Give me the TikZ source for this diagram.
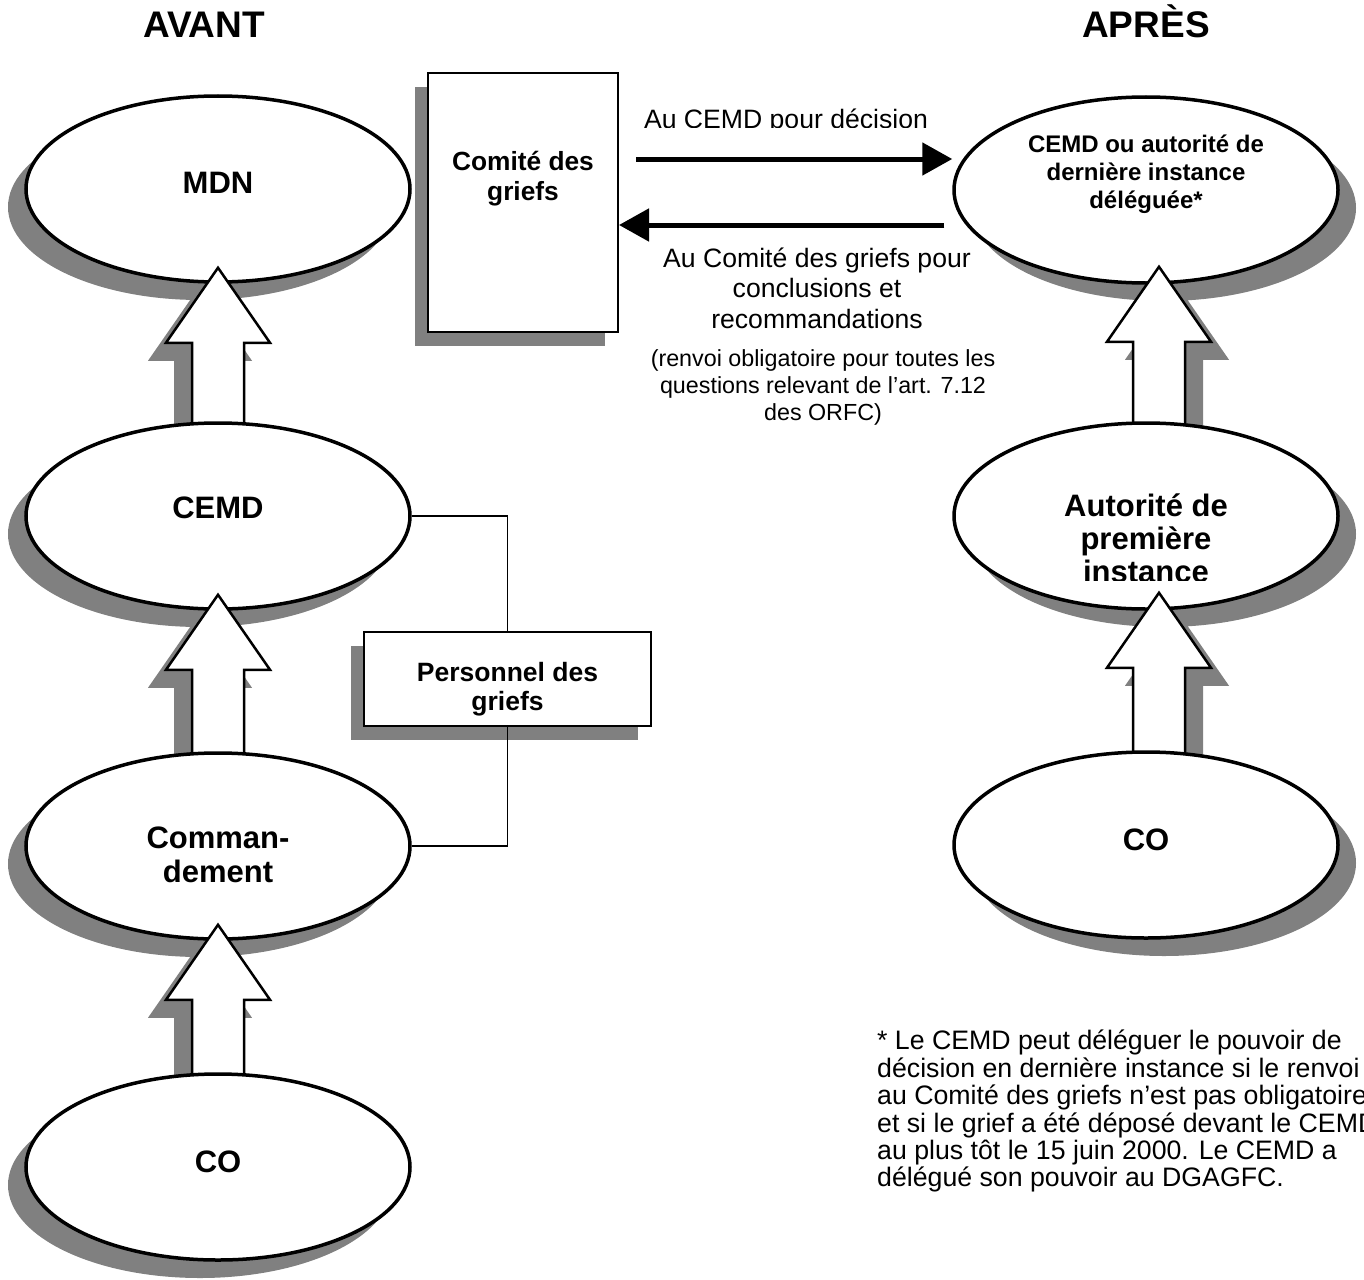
\documentclass[tikz,border=0pt]{standalone}
\usepackage{fontspec}
\setmainfont{Liberation Sans}
\usepackage{tikz}
\usetikzlibrary{shapes.geometric, arrows.meta, calc, shadows}
\definecolor{shadegray}{RGB}{128,128,128}

% hollow upward arrow: #1 shadow side, #2 tip, #3 foot
\newcommand{\hollowup}[3]{%
  \draw[hollow, #1] (#2) -- ++(-52,-75) -- ++(26,0) |- ([xshift=-26pt]#3) -- ++(52,0) |- ([shift={(26pt,-75pt)}]#2) -- ++(26,0) -- cycle;}

\begin{document}
\begin{tikzpicture}[x=1pt, y=1pt,
  shadeleft/.style={drop shadow={shadow xshift=-18pt, shadow yshift=-18pt, fill=shadegray, opacity=1}},
  shaderight/.style={drop shadow={shadow xshift=18pt, shadow yshift=-18pt, fill=shadegray, opacity=1}},
  boxshade/.style={drop shadow={shadow xshift=-13pt, shadow yshift=-14pt, fill=shadegray, opacity=1}},
  oval/.style={ellipse, draw, line width=3.5pt, fill=white, inner sep=0pt, minimum width=384pt, minimum height=186pt},
  ovaltext/.style={font=\fontsize{31}{34}\selectfont\bfseries, align=center, inner sep=0pt},
  hollow/.style={draw, line width=2.5pt, fill=white, line join=miter},
  griefbox/.style={draw, line width=2pt, fill=white, inner sep=0pt, boxshade},
  boxtext/.style={font=\fontsize{26.3}{30}\selectfont\bfseries, align=center, inner sep=0pt},
  flow/.style={line width=5pt, -{Triangle[length=30pt, width=32pt]}},
  link/.style={line width=1.5pt},
  note/.style={font=\fontsize{26.6}{30.5}\selectfont, align=center, inner sep=0pt},
  heading/.style={font=\fontsize{37}{40}\selectfont\bfseries, anchor=base, inner sep=0pt}]
  \clip (0,0) rectangle (1364,-1279);

  % ellipse positions
  \coordinate (pmdn) at (218,-189);
  \coordinate (pcemd) at (218,-516);
  \coordinate (pcommand) at (218,-846);
  \coordinate (pcoL) at (218,-1167);
  \coordinate (pcemdtop) at (1146,-190);
  \coordinate (pauth) at (1146,-516);
  \coordinate (pcoR) at (1146,-845);

  % Headings
  \node[heading] (avant) at (204,-38) {AVANT};
  \node[heading] (apres) at (1146,-38) {APRÈS};

  % AVANT chain
  \node[oval, shadeleft] (mdn) at (pmdn) {};
  \node[ovaltext] (mdntext) at (218,-183) {MDN};
  \coordinate (t1) at ($(mdn.south)+(0,16)$);
  \coordinate (f1) at ($(pcemd)+(0,80)$);
  \hollowup{shadeleft}{t1}{f1}

  \node[oval, shadeleft] (cemd) at (pcemd) {};
  \node[ovaltext] (cemdtext) at (218,-508) {CEMD};
  \coordinate (t2) at ($(cemd.south)+(0,16)$);
  \coordinate (f2) at ($(pcommand)+(0,80)$);
  \hollowup{shadeleft}{t2}{f2}

  \node[oval, shadeleft] (command) at (pcommand) {};
  \node[ovaltext] (commandtext) at (218,-855) {Comman-\\dement};
  \coordinate (t3) at ($(command.south)+(0,16)$);
  \coordinate (f3) at ($(pcoL)+(0,80)$);
  \hollowup{shadeleft}{t3}{f3}

  \node[oval, shadeleft] (coL) at (pcoL) {};
  \node[ovaltext] (coLtext) at (218,-1162) {CO};

  % APRES chain
  \node[oval, shaderight] (cemdtop) at (pcemdtop) {};
  \node[ovaltext, font=\fontsize{24}{28}\selectfont\bfseries] (cemdtoptext) at (1146,-174) {CEMD ou autorité de\\dernière instance\\déléguée*};
  \coordinate (t4) at ($(cemdtop.south)+(13,18)$);
  \coordinate (f4) at ($(pauth)+(13,80)$);
  \hollowup{shaderight}{t4}{f4}

  \node[oval, shaderight] (auth) at (pauth) {};
  \begin{scope}
    \clip (950,-420) rectangle (1340,-580);
    \node[ovaltext, font=\fontsize{31}{33}\selectfont\bfseries] (authtext) at (1146,-538) {Autorité de\\première\\instance};
  \end{scope}
  \coordinate (t5) at ($(auth.south)+(13,18)$);
  \coordinate (f5) at ($(pcoR)+(13,80)$);
  \hollowup{shaderight}{t5}{f5}

  \node[oval, shaderight] (coR) at (pcoR) {};
  \node[ovaltext] (coRtext) at (1146,-840) {CO};

  % Comite des griefs
  \node[griefbox, minimum width=190pt, minimum height=259pt] (comite) at (523,-202.5) {};
  \node[boxtext] (comitetext) at (523,-178.5) {Comité des\\griefs};

  \draw[flow] ($(comite.east)+(17,43.5)$) -- ($(cemdtop.west)+(0,31)$);
  \draw[flow] ($(cemdtop.west)+(-8,-35)$) -- ($(comite.east)+(0,-22.5)$);

  \begin{scope}
    \clip (620,-90) rectangle (950,-127);
    \node[note] (todecision) at (786,-121) {Au CEMD pour décision};
  \end{scope}
  \node[note] (toboard) at (817,-288) {Au Comité des griefs pour\\conclusions et\\recommandations};
  \node[note, font=\fontsize{23.3}{27}\selectfont] (mandatory) at (823,-387.5) {(renvoi obligatoire pour toutes les\\questions relevant de l’art. 7.12\\des ORFC)};

  % Personnel des griefs
  \node[griefbox, minimum width=287pt, minimum height=94pt] (persbox) at (507.5,-679) {};
  \begin{scope}
    \clip (360,-640) rectangle (650,-715);
    \node[boxtext, font=\fontsize{26.5}{29}\selectfont\bfseries] (perstext) at (507.5,-689.5) {Personnel des\\griefs};
  \end{scope}
  \draw[link] (cemd.east) -| (persbox.north);
  \draw[link] (persbox.south) |- (command.east);

  % footnote
  \node[font=\fontsize{26.7}{27.4}\selectfont, align=left, anchor=north west, inner sep=0pt] (footnote) at (877,-1030) {* Le CEMD peut déléguer le pouvoir de\\décision en dernière instance si le renvoi\\au Comité des griefs n’est pas obligatoire\\et si le grief a été déposé devant le CEMD\\au plus tôt le 15 juin 2000. Le CEMD a\\délégué son pouvoir au DGAGFC.};
\end{tikzpicture}
\end{document}
